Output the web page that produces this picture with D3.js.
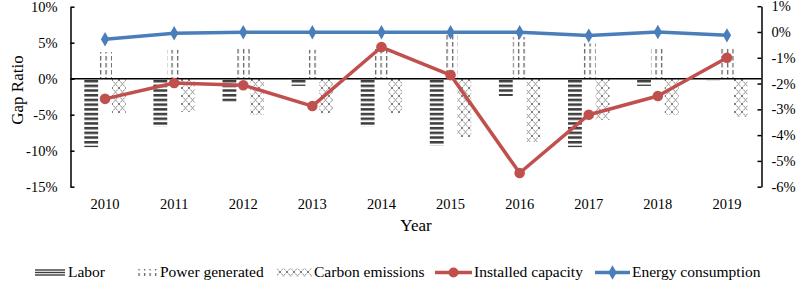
<!DOCTYPE html>
<html>
<head>
<meta charset="utf-8">
<script src="https://cdn.jsdelivr.net/npm/d3@7"></script>
<style>
html,body{margin:0;padding:0;background:#fff;}
svg{display:block;font-family:"Liberation Serif","Times New Roman",serif;}
</style>
</head>
<body>
<svg id="chart" width="803" height="282"></svg>
<script>
const years = ["2010","2011","2012","2013","2014","2015","2016","2017","2018","2019"];
const labor = [-9.5,-6.7,-3.2,-1.0,-6.7,-9.3,-2.4,-9.5,-1.0,-0.2];
const powerGenerated = [3.7,4.0,4.3,4.0,4.4,6.1,5.8,4.9,4.4,4.4];
const carbonEmissions = [-4.8,-4.6,-5.0,-4.8,-4.8,-8.1,-8.8,-5.7,-5.0,-5.3];
const installedCapacity = [-2.8,-0.6,-0.9,-3.8,4.4,0.5,-13.1,-5.0,-2.4,2.9];
const energyConsumption = [-0.28,-0.05,-0.01,-0.01,-0.01,-0.01,-0.01,-0.14,0.0,-0.13];
const leftTicks = [10,5,0,-5,-10,-15];
const rightTicks = [1,0,-1,-2,-3,-4,-5,-6];

const svg = d3.select("#chart");
const defs = svg.append("defs");

// patterns
const pL = defs.append("pattern").attr("id","pLabor").attr("patternUnits","userSpaceOnUse")
  .attr("width",6).attr("height",4.7);
pL.append("rect").attr("x",0).attr("y",0).attr("width",6).attr("height",2.5).attr("fill","#3c3c3c");

const pP = defs.append("pattern").attr("id","pPower").attr("patternUnits","userSpaceOnUse")
  .attr("width",5.5).attr("height",7);
pP.append("rect").attr("x",1).attr("y",0).attr("width",1.2).attr("height",4.5).attr("fill","#555");

const pC = defs.append("pattern").attr("id","pCarbon").attr("patternUnits","userSpaceOnUse")
  .attr("width",7).attr("height",8);
pC.append("path").attr("d","M0,0L7,8M7,0L0,8").attr("stroke","#666").attr("stroke-width",0.9)
  .attr("stroke-dasharray","1.6,0.7").attr("fill","none");

const x0 = 70.5, x1 = 761.5;
const x = d3.scaleBand().domain(years).range([x0,x1]).paddingInner(0).paddingOuter(0);
const y = d3.scaleLinear().domain([-15,10]).range([186.7,6.7]);
const yR = d3.scaleLinear().domain([-6,1]).range([186.7,6.2]);
const bw = x.bandwidth()*0.2;

const series = [
  {vals: labor, fill:"url(#pLabor)", off:-1},
  {vals: powerGenerated, fill:"url(#pPower)", off:0},
  {vals: carbonEmissions, fill:"url(#pCarbon)", off:1}
];
series.forEach(s=>{
  svg.append("g").selectAll("rect").data(years).join("rect")
    .attr("x",(d)=>x(d)+x.bandwidth()/2 + s.off*bw - bw/2)
    .attr("width",bw)
    .attr("y",(d,i)=>y(Math.max(0,s.vals[i])))
    .attr("height",(d,i)=>Math.abs(y(s.vals[i])-y(0)))
    .attr("fill",s.fill);
});

// zero line
svg.append("line").attr("x1",x0).attr("x2",x1).attr("y1",y(0)).attr("y2",y(0))
  .attr("stroke","#000").attr("stroke-width",1.5);

// axes
const axL = svg.append("g").attr("transform",`translate(${x0},0)`)
  .call(d3.axisLeft(y).tickValues(leftTicks).tickFormat(d=>d+"%").tickSizeInner(-4).tickSizeOuter(0).tickPadding(13));
const axR = svg.append("g").attr("transform",`translate(${x1},0)`)
  .call(d3.axisRight(yR).tickValues(rightTicks).tickFormat(d=>d+"%").tickSizeInner(-4).tickSizeOuter(0).tickPadding(10));
[axL,axR].forEach(a=>{
  a.selectAll("path,line").attr("stroke","#000").attr("stroke-width",1.5);
  a.selectAll("text").attr("font-size",14.5).attr("font-family","Liberation Serif").attr("fill","#000");
});
const axB = svg.append("g").attr("transform",`translate(0,187)`)
  .call(d3.axisBottom(x).tickSize(0).tickPadding(12));
axB.select(".domain").remove();
axB.selectAll("text").attr("font-size",14.5).attr("font-family","Liberation Serif").attr("fill","#000");

// titles
svg.append("text").attr("x",(x0+x1)/2).attr("y",231).attr("text-anchor","middle")
  .attr("font-size",17).text("Year");
svg.append("text").attr("transform","translate(23,90) rotate(-90)").attr("text-anchor","middle")
  .attr("font-size",17).text("Gap Ratio");

// lines
const cx = (d)=>x(d)+x.bandwidth()/2;
const red = "#C0504D", blue = "#4A7EBB";
svg.append("path").datum(installedCapacity)
  .attr("d",d3.line().x((d,i)=>cx(years[i])).y(d=>y(d)))
  .attr("fill","none").attr("stroke",red).attr("stroke-width",3.5).attr("stroke-linejoin","round");
svg.append("g").selectAll("circle").data(installedCapacity).join("circle")
  .attr("cx",(d,i)=>cx(years[i])).attr("cy",d=>y(d)).attr("r",5.3).attr("fill",red);

svg.append("path").datum(energyConsumption)
  .attr("d",d3.line().x((d,i)=>cx(years[i])).y(d=>yR(d)))
  .attr("fill","none").attr("stroke",blue).attr("stroke-width",3.5).attr("stroke-linejoin","round");
const diamond = d3.symbol().type(d3.symbolDiamond).size(60);
svg.append("g").selectAll("path").data(energyConsumption).join("path")
  .attr("transform",(d,i)=>`translate(${cx(years[i])},${yR(d)})`)
  .attr("d",diamond).attr("fill",blue);

// legend
const lg = svg.append("g").attr("font-size",15.5);
const ly = 272.5;
[270,272.5,275].forEach(yy=>{
  lg.append("line").attr("x1",35).attr("x2",65).attr("y1",yy).attr("y2",yy).attr("stroke","#3c3c3c").attr("stroke-width",1.4);
});
lg.append("text").attr("x",68).attr("y",277).text("Labor");
lg.append("rect").attr("x",137).attr("y",269).attr("width",21).attr("height",7).attr("fill","url(#pPower)");
lg.append("text").attr("x",160).attr("y",277).text("Power generated");
lg.append("rect").attr("x",277).attr("y",268.5).attr("width",35).attr("height",8).attr("fill","url(#pCarbon)");
lg.append("text").attr("x",314).attr("y",277).text("Carbon emissions");
lg.append("line").attr("x1",435).attr("x2",472).attr("y1",ly).attr("y2",ly).attr("stroke",red).attr("stroke-width",3.5);
lg.append("circle").attr("cx",453.5).attr("cy",ly).attr("r",5).attr("fill",red);
lg.append("text").attr("x",474).attr("y",277).text("Installed capacity");
lg.append("line").attr("x1",595).attr("x2",630).attr("y1",ly).attr("y2",ly).attr("stroke",blue).attr("stroke-width",3.5);
lg.append("path").attr("transform",`translate(612.5,${ly})`).attr("d",diamond).attr("fill",blue);
lg.append("text").attr("x",632).attr("y",277).text("Energy consumption");
</script>
</body>
</html>
